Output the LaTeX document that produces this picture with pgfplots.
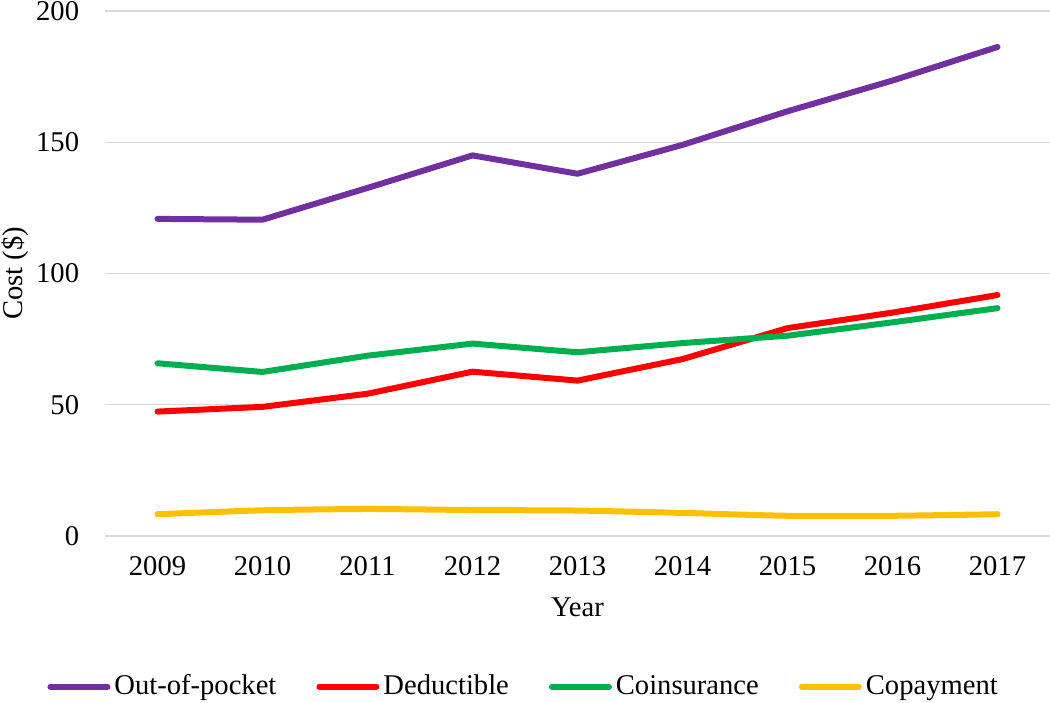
\documentclass[border=0pt]{standalone}
\usepackage{pgfplots}
\pgfplotsset{compat=1.18}
\usepackage{fontspec}
\setmainfont{Liberation Serif}
\definecolor{cPurple}{HTML}{7030A0}
\definecolor{cRed}{HTML}{FF0000}
\definecolor{cGreen}{HTML}{00B050}
\definecolor{cGold}{HTML}{FFC000}
\definecolor{cGrid}{HTML}{D9D9D9}
\begin{document}
\fontsize{14.3}{17}\selectfont
\begin{tikzpicture}
\begin{axis}[
  name=ax,
  scale only axis,
  width=472.5pt, height=262.5pt,
  xmin=-0.5, xmax=8.5,
  ymin=0, ymax=200,
  xtick={0,...,8},
  xticklabels={2009,2010,2011,2012,2013,2014,2015,2016,2017},
  ytick={0,50,100,150,200},
  axis line style={draw=none},
  major tick length=0pt,
  ymajorgrids,
  grid style={cGrid, line width=0.7pt},
  clip=false,
  /pgf/number format/assume math mode=true,
  ticklabel style={font=\fontsize{14.3}{17}\selectfont},
  yticklabel style={xshift=-8pt},
  xticklabel style={yshift=-5.5pt},
  xlabel={Year},
  ylabel={Cost (\$)},
  label style={font=\fontsize{14.3}{17}\selectfont},
  xlabel style={at={(axis description cs:0.5,-0.135)}, anchor=center},
  ylabel style={at={(axis description cs:-0.0952,0.5)}, anchor=center},
  legend columns=4,
  legend style={draw=none, at={(0.444,-0.287)}, anchor=center,
    font=\fontsize{14.3}{17}\selectfont, inner sep=0pt,
    /tikz/every even column/.append style={column sep=18pt}},
  legend image code/.code={\draw[#1, line cap=round] (1.5pt,0pt) -- (30pt,0pt);},
  every axis plot/.append style={line width=3pt, line cap=round, line join=round},
]
\addplot[cPurple] coordinates {(0,120.8) (1,120.5) (2,132.6) (3,145) (4,138) (5,149) (6,161.8) (7,173.5) (8,186.3)};
\addlegendentry{Out-of-pocket}
\addplot[cRed] coordinates {(0,47.4) (1,49.2) (2,54.2) (3,62.6) (4,59.2) (5,67.4) (6,79.2) (7,85.1) (8,91.8)};
\addlegendentry{Deductible}
\addplot[cGreen] coordinates {(0,65.8) (1,62.5) (2,68.7) (3,73.3) (4,70) (5,73.5) (6,76.3) (7,81.4) (8,86.8)};
\addlegendentry{Coinsurance}
\addplot[cGold, smooth, tension=0.3] coordinates {(0,8.3) (1,9.8) (2,10.3) (3,9.9) (4,9.7) (5,8.8) (6,7.7) (7,7.7) (8,8.3)};
\addlegendentry{Copayment}
\end{axis}
\pgfresetboundingbox
\path[use as bounding box] ([xshift=-52.5pt,yshift=-83pt]ax.south west) rectangle ([yshift=5.5pt]ax.north east);
\end{tikzpicture}
\end{document}
